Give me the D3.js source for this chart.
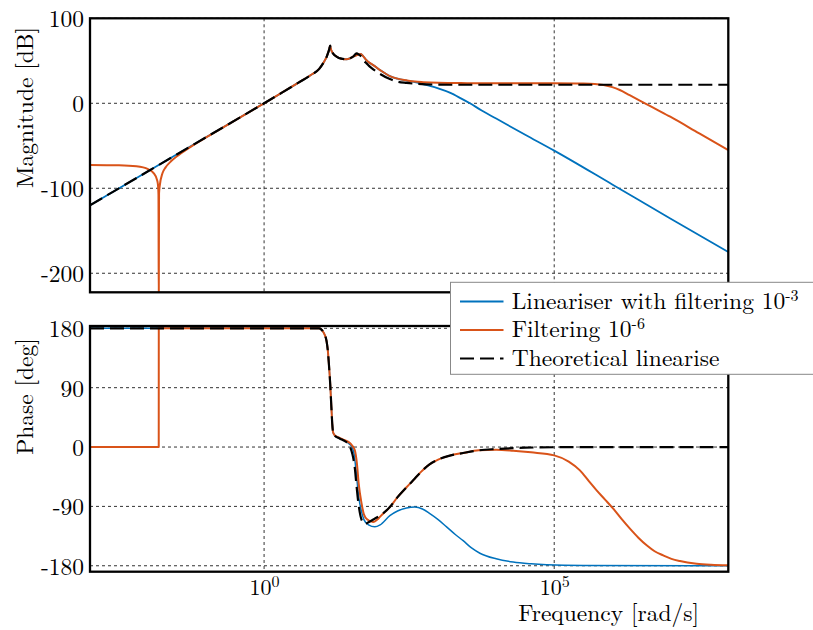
<!DOCTYPE html>
<html><head><meta charset="utf-8">
<script src="https://cdn.jsdelivr.net/npm/d3@7"></script>
<style>body{margin:0;background:#fff;}</style>
</head>
<body><svg id="c" width="813" height="630"></svg>
<script>
// ---------------- data (x = log10 of frequency in rad/s) ----------------
const magTicks = [100, 0, -100, -200];
const phaseTicks = [180, 90, 0, -90, -180];
const freqTickExp = [0, 5];
const legendNames = ["Lineariser with filtering 10", "Filtering 10", "Theoretical linearise"];
const legendSup = ["-3", "-6", ""];

const blueMag = [[-3,-120],[-2,-80],[-1,-40],[0,0],[0.3,12.2],[0.6,24.6],[0.8,33],[0.95,40.5],[1.017,47],[1.047,50.5],[1.08,55],[1.104,59.5],[1.125,64],[1.138,67.8],[1.155,63],[1.19,58.5],[1.248,55],[1.33,52.5],[1.42,51.8],[1.48,52.8],[1.535,54.8],[1.6,56.8],[1.662,58],[1.7,56],[1.76,51],[1.82,47.5],[1.879,45],[2.0,39],[2.167,32],[2.3,29],[2.455,26.8],[2.6,25],[2.75,22.3],[2.856,20.4],[3.0,17.5],[3.2,12.5],[3.4,5.5],[3.547,0],[3.75,-8.5],[4.0,-18],[4.5,-37],[5.0,-55.7],[6.0,-95.5],[7.0,-135.5],[8.0,-175]];
const orangeMag = [[-3,-72.6],[-2.5,-73],[-2.2,-74.2],[-2,-77.5],[-1.9,-82.4],[-1.85,-89],[-1.83,-95],[-1.82,-108],[-1.815,-240],[-1.81,-106],[-1.8,-98],[-1.75,-82],[-1.7,-75.7],[-1.6,-68],[-1.5,-62.3],[-1.3,-52.8],[-1,-40.2],[-0.5,-20],[0,0],[0.3,12.2],[0.6,24.6],[0.8,33],[0.95,40.5],[1.017,47],[1.047,50.5],[1.08,55],[1.104,59.5],[1.125,64],[1.138,67.8],[1.155,63],[1.19,58.5],[1.248,55],[1.33,52.5],[1.42,51.8],[1.48,52.8],[1.535,54.8],[1.6,56.8],[1.662,58],[1.7,56],[1.76,51],[1.82,47.5],[1.879,45],[2.0,39],[2.167,32],[2.3,29],[2.455,27],[2.6,25.5],[2.74,24.8],[3.0,24.1],[3.5,23.7],[4.0,23.5],[5.0,23.5],[5.5,23.3],[5.7,22.8],[5.85,21.5],[6.0,19],[6.13,15.6],[6.3,9.6],[6.564,0],[6.8,-8.5],[7.0,-15.8],[7.5,-35.5],[8.0,-55]];
const theoMag = [[-3,-120],[-2,-80],[-1,-40],[0,0],[0.3,12.2],[0.6,24.6],[0.8,33],[0.95,40.5],[1.017,47],[1.047,50.5],[1.08,55],[1.104,59.5],[1.125,64],[1.138,67.8],[1.155,63],[1.19,58.5],[1.248,55],[1.33,52.5],[1.42,51.8],[1.48,52.8],[1.535,55],[1.57,57.5],[1.593,58.8],[1.64,57],[1.68,54.5],[1.72,50],[1.766,47],[1.822,43.1],[1.9,39],[2.0,34.5],[2.167,28.5],[2.3,25.5],[2.455,24],[2.6,23],[2.8,22.3],[3.2,21.8],[8,21.8]];

const bluePhase = [[-3,180],[0.95,180],[1.0,177],[1.04,171],[1.076,161],[1.1,145],[1.12,122],[1.14,95],[1.16,60],[1.175,35],[1.19,22],[1.22,17.5],[1.3,13.5],[1.4,9],[1.478,4],[1.52,-1],[1.55,-10],[1.59,-40],[1.63,-75],[1.679,-98],[1.72,-110],[1.8,-118],[1.909,-121],[2.0,-118],[2.167,-104],[2.3,-97],[2.455,-92.5],[2.598,-91],[2.73,-94],[2.857,-101],[3.0,-110],[3.145,-121],[3.3,-133],[3.431,-142],[3.575,-153],[3.719,-161],[4.0,-169.5],[4.293,-174.4],[4.6,-177],[4.868,-178.4],[5.5,-179.6],[8,-180]];
const orangePhase = [[-3,0],[-1.8155,0],[-1.8145,180],[0.95,180],[1.0,177],[1.04,171],[1.076,161],[1.1,145],[1.12,122],[1.14,95],[1.16,60],[1.175,35],[1.19,22],[1.22,17.5],[1.3,14],[1.4,10],[1.478,6],[1.52,2],[1.564,-5],[1.6,-25],[1.63,-55],[1.679,-85],[1.72,-102],[1.78,-110],[1.879,-113.8],[1.95,-110],[2.0,-105.5],[2.167,-91],[2.3,-76],[2.455,-61],[2.569,-50.5],[2.7,-38],[2.857,-26],[3.0,-19],[3.2,-13],[3.431,-9],[3.7,-5],[4.0,-4],[4.293,-5.5],[4.6,-8],[5.0,-12.6],[5.25,-22],[5.443,-35.4],[5.6,-52],[5.731,-65.7],[5.88,-80],[6.017,-93.5],[6.16,-109],[6.305,-123.8],[6.45,-137.5],[6.593,-149],[6.73,-158],[6.879,-164.3],[7.02,-169.5],[7.167,-172.9],[7.455,-176.9],[7.7,-178.5],[8.0,-179.4]];
const theoPhase = [[-3,180],[0.95,180],[1.0,177],[1.04,171],[1.076,161],[1.1,145],[1.12,122],[1.14,95],[1.16,60],[1.175,35],[1.19,22],[1.22,17],[1.3,13],[1.4,8.5],[1.45,5],[1.478,1],[1.507,-6],[1.535,-16],[1.564,-32],[1.59,-56],[1.621,-82],[1.66,-104],[1.7,-114],[1.736,-116.5],[1.8,-114],[1.9,-109],[1.995,-104],[2.167,-91],[2.3,-76],[2.455,-61],[2.569,-50.5],[2.7,-38],[2.857,-26],[3.0,-19],[3.2,-13],[3.431,-9],[3.7,-5],[4.0,-3],[4.5,-1],[5.0,-0.3],[8,0]];

// ---------------- layout ----------------
const svg = d3.select("#c");
const L = 90, R = 728.3;
const magTop = 18.3, magBot = 292.3, phTop = 326, phBot = 571.7;
const FONT = "'Latin Modern Roman', 'Liberation Serif', serif";
const C = { blue: "#0072BD", orange: "#D95319", black: "#000000" };

const x = d3.scaleLog().domain([1e-3, 1e8]).range([L, R]);
const yM = d3.scaleLinear().domain([-222.4, 100]).range([magBot, magTop]);
const yP = d3.scaleLinear().domain([-189, 183.5]).range([phBot, phTop]);

function styleText(sel, size) {
  return sel.style("font-family", FONT).style("font-size", size + "px").style("fill", "#000");
}

function panel(y, top, bot, ticks, id, series) {
  const g = svg.append("g");
  svg.append("clipPath").attr("id", id).append("rect")
    .attr("x", L).attr("y", top).attr("width", R - L).attr("height", bot - top);
  g.append("g").selectAll("line").data(ticks).join("line")
    .attr("x1", L).attr("x2", R).attr("y1", d => y(d)).attr("y2", d => y(d))
    .attr("stroke", "#333").attr("stroke-width", 1).attr("stroke-dasharray", "3,3");
  g.append("g").selectAll("line").data(freqTickExp).join("line")
    .attr("x1", d => x(Math.pow(10, d))).attr("x2", d => x(Math.pow(10, d)))
    .attr("y1", top).attr("y2", bot)
    .attr("stroke", "#333").attr("stroke-width", 1).attr("stroke-dasharray", "3,3");
  const line = d3.line().x(d => x(Math.pow(10, d[0]))).y(d => y(d[1])).curve(d3.curveMonotoneX);
  const cg = g.append("g").attr("clip-path", `url(#${id})`);
  series.forEach(s => {
    cg.append("path").attr("d", line(s.data)).attr("fill", "none")
      .attr("stroke", s.color).attr("stroke-width", s.w)
      .attr("stroke-dasharray", s.dash || null).attr("stroke-linejoin", "round");
  });
  g.append("rect").attr("x", L).attr("y", top).attr("width", R - L).attr("height", bot - top)
    .attr("fill", "none").attr("stroke", "#000").attr("stroke-width", 2.3);
  const ax = g.append("g").attr("transform", `translate(${L},0)`)
    .call(d3.axisLeft(y).tickValues(ticks).tickSize(0).tickPadding(6).tickFormat(d => String(d)));
  ax.select(".domain").remove();
  styleText(ax.selectAll("text").attr("dy", "0.36em"), 23.5);
  return g;
}

panel(yM, magTop, magBot, magTicks, "clipMag", [
  { data: blueMag, color: C.blue, w: 1.8 },
  { data: orangeMag, color: C.orange, w: 2 },
  { data: theoMag, color: C.black, w: 2.2, dash: "14,6" }
]);
panel(yP, phTop, phBot, phaseTicks, "clipPh", [
  { data: bluePhase, color: C.blue, w: 1.5 },
  { data: orangePhase, color: C.orange, w: 2 },
  { data: theoPhase, color: C.black, w: 2.2, dash: "14,6" }
]);

// x axis (bottom panel)
const xa = svg.append("g").attr("transform", `translate(0,${phBot})`)
  .call(d3.axisBottom(x).tickValues(freqTickExp.map(e => Math.pow(10, e))).tickSize(0).tickFormat(""));
xa.select(".domain").remove();
xa.selectAll(".tick text").each(function (d) {
  const t = d3.select(this).attr("y", 23.3).attr("dy", 0);
  styleText(t, 22);
  t.text(null);
  t.append("tspan").text("10");
  t.append("tspan").style("font-size", "16px").attr("dy", -8).text(Math.round(Math.log10(d)));
});

// axis titles
styleText(svg.append("text").attr("transform", "translate(33,107.5) rotate(-90)")
  .attr("text-anchor", "middle"), 23.5).text("Magnitude [dB]");
styleText(svg.append("text").attr("transform", "translate(33,396.5) rotate(-90)")
  .attr("text-anchor", "middle"), 23.5).text("Phase [deg]");
styleText(svg.append("text").attr("x", 608.7).attr("y", 621)
  .attr("text-anchor", "middle"), 23.5).text("Frequency [rad/s]");

// legend
const lg = svg.append("g");
lg.append("rect").attr("x", 450.5).attr("y", 282.3).attr("width", 380).attr("height", 92)
  .attr("fill", "#fff").attr("stroke", "#888").attr("stroke-width", 1);
const legColors = [C.blue, C.orange, C.black];
const legDash = [null, null, "14,6"];
legendNames.forEach((name, i) => {
  const by = 308.5 + i * 28.5;
  lg.append("line").attr("x1", 460).attr("x2", 503.5).attr("y1", by - 7).attr("y2", by - 7)
    .attr("stroke", legColors[i]).attr("stroke-width", 2).attr("stroke-dasharray", legDash[i]);
  const t = styleText(lg.append("text").attr("x", 511.7).attr("y", by), 23.5);
  t.append("tspan").text(name);
  if (legendSup[i]) t.append("tspan").style("font-size", "16px").attr("dy", -8).text(legendSup[i]);
});
</script>
</body></html>
